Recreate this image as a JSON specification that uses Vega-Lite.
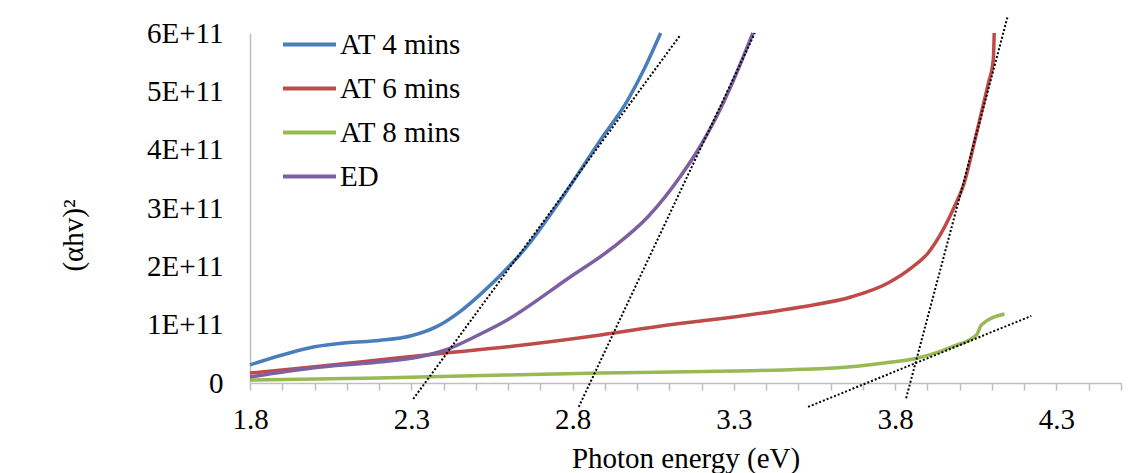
{
  "$schema": "https://vega.github.io/schema/vega-lite/v6.json",
  "width": 871,
  "height": 350,
  "autosize": "none",
  "padding": {"left": 250, "top": 33, "right": 26, "bottom": 90},
  "background": "white",
  "config": {
    "view": {"stroke": null},
    "font": "Liberation Serif",
    "axis": {"labelFont": "Liberation Serif", "titleFont": "Liberation Serif", "labelColor": "black", "titleColor": "black", "labelFontSize": 29, "titleFontSize": 29, "titleFontWeight": "normal", "grid": false, "domainColor": "#BFBFBF", "domainWidth": 1.5, "tickColor": "#BFBFBF", "tickWidth": 1.5},
    "legend": {"labelFont": "Liberation Serif", "labelFontSize": 29, "labelColor": "black"}
  },
  "datasets": {
    "curves": [
      {"series": "AT 4 mins", "x": 1.800, "y": 3.1e10},
      {"series": "AT 4 mins", "x": 1.900, "y": 4.8e10},
      {"series": "AT 4 mins", "x": 2.000, "y": 6.2e10},
      {"series": "AT 4 mins", "x": 2.100, "y": 6.9e10},
      {"series": "AT 4 mins", "x": 2.200, "y": 7.3e10},
      {"series": "AT 4 mins", "x": 2.300, "y": 8.1e10},
      {"series": "AT 4 mins", "x": 2.380, "y": 9.7e10},
      {"series": "AT 4 mins", "x": 2.450, "y": 1.22e11},
      {"series": "AT 4 mins", "x": 2.520, "y": 1.55e11},
      {"series": "AT 4 mins", "x": 2.580, "y": 1.87e11},
      {"series": "AT 4 mins", "x": 2.654, "y": 2.31e11},
      {"series": "AT 4 mins", "x": 2.763, "y": 3.14e11},
      {"series": "AT 4 mins", "x": 2.887, "y": 4.17e11},
      {"series": "AT 4 mins", "x": 2.971, "y": 4.85e11},
      {"series": "AT 4 mins", "x": 3.020, "y": 5.36e11},
      {"series": "AT 4 mins", "x": 3.073, "y": 6.0e11},
      {"series": "AT 6 mins", "x": 1.800, "y": 1.71e10},
      {"series": "AT 6 mins", "x": 1.993, "y": 2.74e10},
      {"series": "AT 6 mins", "x": 2.198, "y": 3.94e10},
      {"series": "AT 6 mins", "x": 2.406, "y": 5.14e10},
      {"series": "AT 6 mins", "x": 2.592, "y": 6.17e10},
      {"series": "AT 6 mins", "x": 2.887, "y": 8.23e10},
      {"series": "AT 6 mins", "x": 3.095, "y": 9.94e10},
      {"series": "AT 6 mins", "x": 3.300, "y": 1.131e11},
      {"series": "AT 6 mins", "x": 3.508, "y": 1.303e11},
      {"series": "AT 6 mins", "x": 3.663, "y": 1.474e11},
      {"series": "AT 6 mins", "x": 3.778, "y": 1.714e11},
      {"series": "AT 6 mins", "x": 3.850, "y": 1.972e11},
      {"series": "AT 6 mins", "x": 3.902, "y": 2.229e11},
      {"series": "AT 6 mins", "x": 3.943, "y": 2.572e11},
      {"series": "AT 6 mins", "x": 3.983, "y": 3.017e11},
      {"series": "AT 6 mins", "x": 4.014, "y": 3.429e11},
      {"series": "AT 6 mins", "x": 4.045, "y": 4.115e11},
      {"series": "AT 6 mins", "x": 4.067, "y": 4.629e11},
      {"series": "AT 6 mins", "x": 4.089, "y": 5.143e11},
      {"series": "AT 6 mins", "x": 4.104, "y": 5.538e11},
      {"series": "AT 6 mins", "x": 4.107, "y": 6.0e11},
      {"series": "AT 8 mins", "x": 1.800, "y": 5.1e9},
      {"series": "AT 8 mins", "x": 2.198, "y": 8.6e9},
      {"series": "AT 8 mins", "x": 2.592, "y": 1.37e10},
      {"series": "AT 8 mins", "x": 2.887, "y": 1.71e10},
      {"series": "AT 8 mins", "x": 3.300, "y": 2.06e10},
      {"series": "AT 8 mins", "x": 3.611, "y": 2.57e10},
      {"series": "AT 8 mins", "x": 3.766, "y": 3.43e10},
      {"series": "AT 8 mins", "x": 3.871, "y": 4.29e10},
      {"series": "AT 8 mins", "x": 3.974, "y": 6.17e10},
      {"series": "AT 8 mins", "x": 4.052, "y": 8.23e10},
      {"series": "AT 8 mins", "x": 4.067, "y": 9.94e10},
      {"series": "AT 8 mins", "x": 4.139, "y": 1.183e11},
      {"series": "ED", "x": 1.800, "y": 1.03e10},
      {"series": "ED", "x": 1.993, "y": 2.57e10},
      {"series": "ED", "x": 2.198, "y": 3.60e10},
      {"series": "ED", "x": 2.322, "y": 4.46e10},
      {"series": "ED", "x": 2.406, "y": 5.66e10},
      {"series": "ED", "x": 2.508, "y": 8.23e10},
      {"series": "ED", "x": 2.592, "y": 1.063e11},
      {"series": "ED", "x": 2.788, "y": 1.800e11},
      {"series": "ED", "x": 2.927, "y": 2.332e11},
      {"series": "ED", "x": 3.033, "y": 2.846e11},
      {"series": "ED", "x": 3.135, "y": 3.549e11},
      {"series": "ED", "x": 3.198, "y": 4.080e11},
      {"series": "ED", "x": 3.244, "y": 4.543e11},
      {"series": "ED", "x": 3.291, "y": 5.092e11},
      {"series": "ED", "x": 3.359, "y": 6.0e11}
    ],
    "tangents": [
      {"line": "t1", "x": 2.306, "y": -2.74e10},
      {"line": "t1", "x": 3.132, "y": 5.95e11},
      {"line": "t2", "x": 2.819, "y": -4.1e10},
      {"line": "t2", "x": 3.365, "y": 6.0e11},
      {"line": "t3", "x": 3.834, "y": -2.6e10},
      {"line": "t3", "x": 4.148, "y": 6.27e11},
      {"line": "t4", "x": 3.530, "y": -4.1e10},
      {"line": "t4", "x": 4.222, "y": 1.15e11}
    ]
  },
  "encoding": {
    "x": {
      "field": "x", "type": "quantitative",
      "scale": {"domain": [1.8, 4.5], "nice": false, "zero": false},
      "axis": {
        "title": "Photon energy (eV)",
        "values": [1.8, 1.9, 2.0, 2.1, 2.2, 2.3, 2.4, 2.5, 2.6, 2.7, 2.8, 2.9, 3.0, 3.1, 3.2, 3.3, 3.4, 3.5, 3.6, 3.7, 3.8, 3.9, 4.0, 4.1, 4.2, 4.3, 4.4, 4.5],
        "labelExpr": "abs((datum.value-1.8)/0.5 - round((datum.value-1.8)/0.5)) < 0.01 ? format(datum.value, '.1f') : ''",
        "ticks": true, "tickSize": 7,
        "labelBaseline": "alphabetic", "labelPadding": 38,
        "labelOverlap": false, "labelFlush": false,
        "titleBaseline": "alphabetic", "titleY": 84
      }
    },
    "y": {
      "field": "y", "type": "quantitative",
      "scale": {"domain": [0, 6e11], "nice": false},
      "axis": {
        "title": "(αhv)²",
        "values": [0, 1e11, 2e11, 3e11, 4e11, 5e11, 6e11],
        "labelExpr": "datum.value == 0 ? '0' : round(datum.value/1e11) + 'E+11'",
        "ticks": false, "tickSize": 0, "labelPadding": 27,
        "titleAngle": -90, "titleX": -177, "titleY": 202, "titleAlign": "center", "titleBaseline": "middle"
      }
    }
  },
  "layer": [
    {
      "data": {"name": "curves"},
      "mark": {"type": "line", "strokeWidth": 3.5, "interpolate": "monotone"},
      "encoding": {
        "color": {
          "field": "series", "type": "nominal",
          "scale": {"domain": ["AT 4 mins", "AT 6 mins", "AT 8 mins", "ED"], "range": ["#4A7EBB", "#BE4B48", "#98B954", "#7D60A0"]},
          "legend": {"title": null, "orient": "none", "legendX": 31, "legendY": -17, "symbolType": "stroke", "symbolSize": 2809, "symbolStrokeWidth": 4, "labelOffset": 2, "rowPadding": 0}
        }
      }
    },
    {
      "data": {"name": "tangents"},
      "mark": {"type": "line", "color": "black", "strokeDash": [2, 2], "strokeWidth": 2},
      "encoding": {"detail": {"field": "line", "type": "nominal"}}
    }
  ]
}
